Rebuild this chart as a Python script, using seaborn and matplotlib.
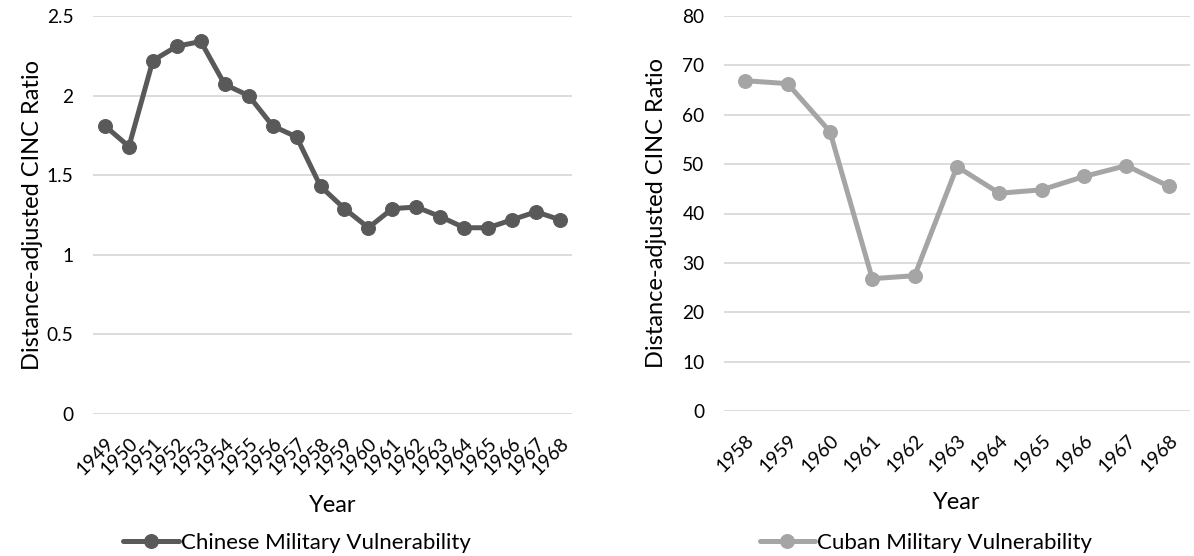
import matplotlib
matplotlib.use("Agg")
import matplotlib.pyplot as plt
import seaborn as sns
import pandas as pd

# Data
china_years = list(range(1949, 1969))
china_values = [1.81, 1.68, 2.22, 2.31, 2.34, 2.07, 2.00, 1.81, 1.74, 1.43,
                1.29, 1.17, 1.29, 1.30, 1.24, 1.17, 1.17, 1.22, 1.27, 1.22]
cuba_years = list(range(1958, 1969))
cuba_values = [66.9, 66.3, 56.6, 26.8, 27.4, 49.5, 44.1, 44.8, 47.5, 49.7, 45.5]

sns.set_style("white")
plt.rcParams["font.family"] = ["Lato", "DejaVu Sans"]

W, H = 1194, 556
fig = plt.figure(figsize=(W / 100, H / 100), dpi=100)

TXT = "#000000"
GRID = "#D9D9D9"
FS = 13.8        # tick labels
FS_TITLE = 17    # axis titles
FS_LEG = 16      # legend


def _frange(start, stop, step):
    n = int(round((stop - start) / step))
    return [round(start + i * step, 6) for i in range(n + 1)]


def _fmt(v):
    return str(int(v)) if float(v).is_integer() else f"{v:g}"


def draw_panel(ax, years, values, color, label, ymax, ystep, ylabelpad, legend_cx):
    df = pd.DataFrame({"Year": years, "Value": values})
    sns.lineplot(data=df, x="Year", y="Value", ax=ax, color=color,
                 linewidth=3.6, marker="o", markersize=10,
                 markeredgecolor=color, label=label, legend=True)
    ax.set_xlim(years[0] - 0.5, years[-1] + 0.5)
    ax.set_ylim(0, ymax)
    ticks = _frange(0, ymax, ystep)
    ax.set_yticks(ticks)
    ax.set_yticklabels([_fmt(v) for v in ticks], fontsize=FS, color=TXT)
    ax.set_xticks(years)
    ax.set_xticklabels([str(y) for y in years], rotation=45, ha="right",
                       rotation_mode="anchor", fontsize=FS, color=TXT)
    ax.tick_params(axis="both", length=0)
    ax.tick_params(axis="x", pad=15)
    ax.tick_params(axis="y", pad=14)
    ax.grid(axis="y", color=GRID, linewidth=1.3)
    ax.grid(axis="x", visible=False)
    ax.set_axisbelow(True)
    for s in ax.spines.values():
        s.set_visible(False)
    ax.set_xlabel("Year", fontsize=FS_TITLE, color=TXT, labelpad=12)
    ax.set_ylabel("Distance-adjusted CINC Ratio", fontsize=FS_TITLE, color=TXT,
                  labelpad=ylabelpad)
    leg = ax.legend(loc="center", bbox_to_anchor=(legend_cx / W, 1 - 543 / H),
                    bbox_transform=fig.transFigure, frameon=False,
                    fontsize=FS_LEG, handlelength=2.5, handletextpad=0.1,
                    borderaxespad=0, borderpad=0)
    for t in leg.get_texts():
        t.set_color(TXT)


ax1 = fig.add_axes([93 / W, 1 - 414 / H, (572 - 93) / W, (414 - 16) / H])
draw_panel(ax1, china_years, china_values, "#595959",
           "Chinese Military Vulnerability", 2.5, 0.5, 3, 297)

ax2 = fig.add_axes([724 / W, 1 - 411 / H, (1190 - 724) / W, (411 - 16) / H])
draw_panel(ax2, cuba_years, cuba_values, "#A5A5A5",
           "Cuban Military Vulnerability", 80, 10, 11, 926)

fig.savefig("out.png", dpi=100, facecolor="white")
